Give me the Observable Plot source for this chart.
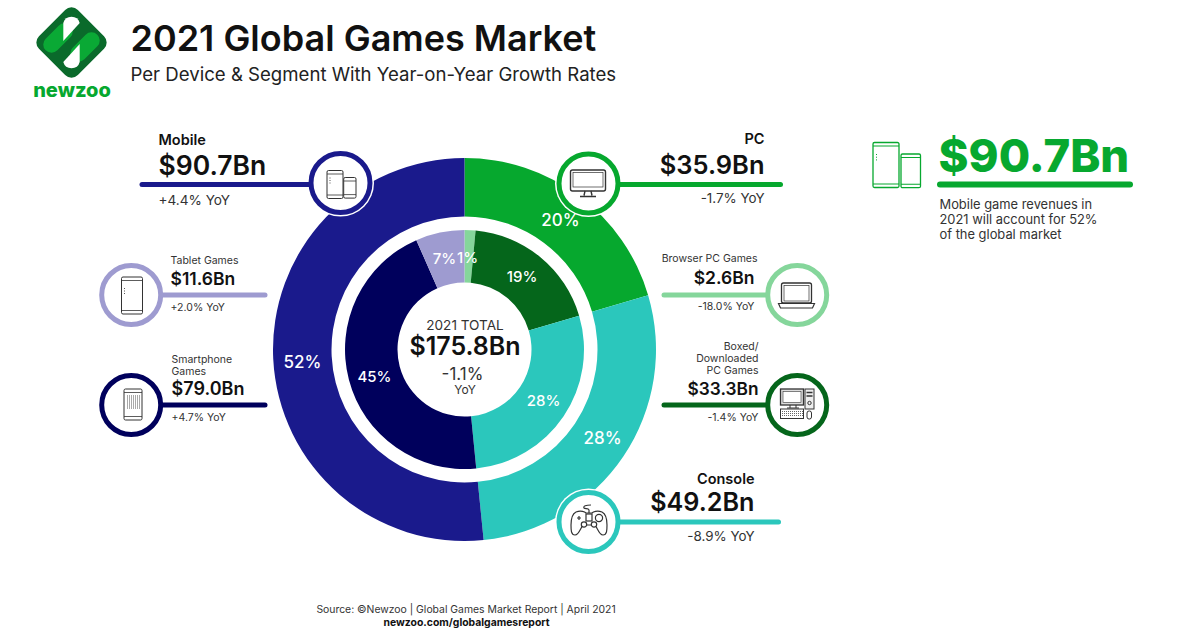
<!DOCTYPE html>
<html lang="en">
<head>
<meta charset="UTF-8">
<title>2021 Global Games Market</title>
<script src="https://cdn.jsdelivr.net/npm/d3@7"></script>
<script src="https://cdn.jsdelivr.net/npm/@observablehq/plot@0.6"></script>
<style>
  html, body { margin: 0; background: #fff; }
  svg { display: block; font-family: Inter, "Open Sans", sans-serif; }
</style>
</head>
<body>
<div id="chart"></div>
<script>
// values, clockwise from twelve o'clock
const outerNames = ["PC", "Console", "Mobile"];
const outerValues = [35.9, 49.2, 90.7];
const outerShares = ["20%", "28%", "52%"];
const outerColors = ["#06a82e", "#2bc7bc", "#1a1a8c"];

const innerNames = ["Browser PC Games", "Boxed/Downloaded PC Games", "Console", "Smartphone Games", "Tablet Games"];
const innerValues = [2.6, 33.3, 49.2, 79.0, 11.6];
const innerShares = ["1%", "19%", "28%", "45%", "7%"];
const innerColors = ["#85d69b", "#05661b", "#2bc7bc", "#00005c", "#9e9bd0"];

const totalLabel = "$175.8Bn";
const totalGrowth = "-1.1%";

const green = "#07a82f";
const ink = "#111";
const grey = "#333";

const cx = 464.5, cy = 349.5;

function label(t, x, y, fontSize, fontWeight = 400, fill = ink, textAnchor = "start") {
  return Plot.text([{t, x, y}], {x: "x", y: "y", text: "t", fontSize, fontWeight, fill, textAnchor});
}

// one callout: ring with icon, leader line, then the texts
function callout(color, ringX, ringY, lineFrom, lineTo, lineY) {
  return [
    Plot.dot([{x: ringX, y: ringY}], {x: "x", y: "y", r: 33.5, fill: "#fff"}),
    Plot.ruleY([lineY], {x1: lineFrom, x2: lineTo, stroke: color, strokeWidth: 5, strokeLinecap: "round"}),
    Plot.dot([{x: ringX, y: ringY}], {x: "x", y: "y", r: 29.5, fill: "#fff", stroke: color, strokeWidth: 5})
  ];
}

function donut(values, colors, r0, r1) {
  return (index, {x, y}) => {
    const g = d3.create("svg:g").attr("transform", `translate(${x(cx)},${y(cy)})`);
    const arcs = d3.pie().sort(null).startAngle(0).endAngle(2 * Math.PI)(values);
    const arc = d3.arc().innerRadius(r0).outerRadius(r1);
    g.selectAll("path").data(arcs).join("path").attr("d", arc).attr("fill", (d, i) => colors[i]);
    return g.node();
  };
}

// little line icons, drawn around their own origin
function device(x, y, w, h, c = "#333", sw = 1) {
  return `<rect x="${x}" y="${y}" width="${w}" height="${h}" rx="1.5" fill="#fff" stroke="${c}" stroke-width="${sw}"/>
    <path d="M${x} ${y + 3.5}H${x + w}M${x} ${y + h - 3.5}H${x + w}" stroke="${c}" stroke-width="${sw * 0.8}" fill="none"/>`;
}
function grid(x, y, n, m, step, c = "#555") {
  let s = "";
  for (let i = 0; i < n; i++) for (let j = 0; j < m; j++) s += `<rect x="${x + i * step}" y="${y + j * step}" width="1" height="1" fill="${c}"/>`;
  return s;
}
const controllerIcon = `<g fill="#fff" stroke="#333" stroke-width="1.2">
  <path d="M-13 -9C-8 -11 -4 -9 -3 -8H3C4 -9 8 -11 13 -9C17 -7 18 -1 18 4C18 9 18 14 14 14C10 14 8 6 6 4H-6C-8 6 -10 14 -14 14C-18 14 -18 9 -18 4C-18 -1 -17 -7 -13 -9Z"/>
  <circle cx="-5" cy="3.5" r="2.7"/><circle cx="5" cy="3.5" r="2.7"/>
  <rect x="-3" y="-7" width="6" height="7"/>
  <path d="M-12 -3H-8M-10 -5V-1" fill="none"/><circle cx="10" cy="-3" r="3.6"/>
  <path d="M0 -8V-11C0 -13 -4 -12 -5 -13C-6 -15 -3 -16 2 -16" fill="none"/>
</g>`;
const icons = [
  {x: 340, y: 182.5, svg: device(-13, -12, 16, 28) + device(3.7, -5, 12.3, 20.6) + grid(-10.5, -5, 1, 3, 2.5)},
  {x: 132, y: 295, svg: device(-10.5, -18, 21, 37) + grid(-8, -7, 1, 3, 2.5)},
  {x: 133, y: 404.5, svg: device(-9, -15.5, 18, 31) + grid(-6, -9, 7, 7, 2)},
  {x: 588, y: 183.5, svg: `<rect x="-17.5" y="-13.5" width="35" height="21" rx="2" fill="#fff" stroke="#333" stroke-width="1.4"/>
    <rect x="-15" y="-11" width="30" height="14.5" fill="#fff" stroke="#333" stroke-width="0.7"/>
    <path d="M-3 7.5L-4 12M3 7.5L4 12M-8 13H8" fill="none" stroke="#333" stroke-width="1.4"/>`},
  {x: 796.5, y: 295.5, svg: `<rect x="-15" y="-12.5" width="30" height="20" rx="2" fill="#fff" stroke="#333" stroke-width="1.3"/>
    <rect x="-12.5" y="-10" width="25" height="15.5" fill="#fff" stroke="#333" stroke-width="0.7"/>
    <path d="M-18 8H18L16 12.5H-16Z" fill="#fff" stroke="#333" stroke-width="1.2"/>`},
  {x: 797, y: 404, svg: `<rect x="-16.5" y="-15" width="23" height="16" fill="#ddd" stroke="#333" stroke-width="1.3"/>
    <rect x="-14" y="-12.5" width="18" height="11" fill="#fff" stroke="#333" stroke-width="0.6"/>
    <rect x="8" y="-15" width="9" height="20" fill="#eee" stroke="#333" stroke-width="1"/>
    <path d="M9.5 -11.5H15.5M9.5 -8H15.5" stroke="#333" stroke-width="1.6"/><circle cx="12.5" cy="-1" r="1.7" fill="none" stroke="#333"/>
    <path d="M-7 1V4M-1 1V4M-10 4H2" stroke="#333" fill="none"/>
    <rect x="-16.5" y="5" width="23" height="9.5" fill="#fff" stroke="#333" stroke-width="1"/>${grid(-15, 7, 11, 3, 2, "#666")}
    <rect x="10" y="7" width="4.5" height="8" rx="2" fill="#fff" stroke="#333"/>`},
  {x: 589, y: 521, svg: controllerIcon},
  {x: 897, y: 165, svg: device(-24, -22.5, 26, 45, green, 1.3) + device(4, -11, 19.5, 33.7, green, 1.3) + grid(-21, -11, 1, 3, 2.7, green)}
];

const logo = `<rect x="-27.5" y="-27.5" width="55" height="55" rx="9" fill="#0a6a2b" transform="rotate(45)"/>
  <g id="half"><path d="M-7 -11L-20 2" stroke="#0aa935" stroke-width="16.5" stroke-linecap="round"/>
  <path d="M-8.2 -19.5A8.5 8.5 0 0 1 8.2 -19.5L-8.2 -1.5Z" fill="#fff"/></g>
  <use href="#half" transform="rotate(180)"/>`;

function iconMark(index, {x, y}) {
  const g = document.createElementNS("http://www.w3.org/2000/svg", "g");
  g.innerHTML = icons.map(d => `<g transform="translate(${x(d.x)},${y(d.y)})">${d.svg}</g>`).join("")
    + `<g transform="translate(${x(71.5)},${y(42.5)})">${logo}</g>`;
  return g;
}

const chart = Plot.plot({
  width: 1200,
  height: 630,
  margin: 0,
  x: {domain: [0, 1200], range: [0, 1200], axis: null},
  y: {domain: [0, 630], range: [0, 630], axis: null},
  marks: [
    donut(outerValues, outerColors, 133, 191.5),
    donut(innerValues, innerColors, 67, 119.5),

    ...callout(outerColors[2], 340, 182.5, 142, 320, 184),
    ...callout(outerColors[0], 588, 183, 600, 780.5, 184),
    ...callout(outerColors[1], 588, 521.5, 600, 778.5, 521.5),
    ...callout(innerColors[4], 130.7, 294.5, 140, 265, 294.5),
    ...callout(innerColors[3], 130.7, 404.5, 140, 265, 404.5),
    ...callout(innerColors[0], 796.7, 294.5, 664, 780, 294.5),
    ...callout(innerColors[1], 796.7, 404.5, 664, 780, 404.5),
    iconMark,

    // header
    label("2021 Global Games Market", 130, 39, 36, 600),
    label("Per Device & Segment With Year-on-Year Growth Rates", 130, 75, 18.6, 400, "#222"),
    label("newzoo", 71.5, 90, 20, 800, green, "middle"),

    // share labels inside the rings
    label(outerShares[2], 302, 362, 17, 500, "#fff", "middle"),
    label(outerShares[0], 560, 220, 17, 500, "#fff", "middle"),
    label(outerShares[1], 602, 438, 17, 500, "#fff", "middle"),
    label(innerShares[3], 374, 377, 15, 500, "#fff", "middle"),
    label(innerShares[4], 444, 259, 15, 500, "#fff", "middle"),
    label(innerShares[0], 467, 258, 15, 500, "#fff", "middle"),
    label(innerShares[1], 521.5, 277, 15, 500, "#fff", "middle"),
    label(innerShares[2], 543, 401, 15, 500, "#fff", "middle"),

    // centre
    label("2021 TOTAL", cx, 325, 13.6, 400, grey, "middle"),
    label(totalLabel, cx, 346, 25, 600, ink, "middle"),
    label(totalGrowth, 462, 374, 17, 400, grey, "middle"),
    label("YoY", cx, 390, 12, 400, grey, "middle"),

    // left callouts
    label(outerNames[2], 158, 140, 14.5, 600),
    label("$90.7Bn", 158, 166, 26.5, 600),
    label("+4.4% YoY", 158, 200, 13.6, 400, grey),
    label(innerNames[4], 170, 260, 10.5, 400, grey),
    label("$11.6Bn", 170, 279, 17.5, 600),
    label("+2.0% YoY", 170, 307, 10.5, 400, grey),
    label("Smartphone", 171, 359, 10.5, 400, grey),
    label("Games", 171, 371, 10.5, 400, grey),
    label("$79.0Bn", 171, 389, 18, 600),
    label("+4.7% YoY", 171, 417, 10.5, 400, grey),

    // right callouts
    label(outerNames[0], 764, 139, 14.5, 600, ink, "end"),
    label("$35.9Bn", 764, 165, 25.5, 600, ink, "end"),
    label("-1.7% YoY", 764, 198, 13.4, 400, grey, "end"),
    label(innerNames[0], 757, 258, 10.5, 400, grey, "end"),
    label("$2.6Bn", 754, 278, 17.5, 600, ink, "end"),
    label("-18.0% YoY", 754, 306, 10.5, 400, grey, "end"),
    label("Boxed/", 758, 346, 10.5, 400, grey, "end"),
    label("Downloaded", 758, 358, 10.5, 400, grey, "end"),
    label("PC Games", 758, 370, 10.5, 400, grey, "end"),
    label("$33.3Bn", 758, 389, 17.3, 600, ink, "end"),
    label("-1.4% YoY", 758, 417, 10.5, 400, grey, "end"),
    label(outerNames[1], 754, 479, 14.5, 600, ink, "end"),
    label("$49.2Bn", 754, 502, 25.2, 600, ink, "end"),
    label("-8.9% YoY", 754, 536, 13.4, 400, grey, "end"),

    // highlight on the right
    label("$90.7Bn", 938, 157, 45.5, 800, green),
    Plot.ruleY([184], {x1: 940, x2: 1130, stroke: green, strokeWidth: 6, strokeLinecap: "round"}),
    label("Mobile game revenues in", 939, 204, 12.9, 400, grey),
    label("2021 will account for 52%", 939, 219, 12.9, 400, grey),
    label("of the global market", 939, 234, 12.9, 400, grey),

    // source
    label("Source: ©Newzoo | Global Games Market Report | April 2021", 465.5, 609, 10.4, 400, grey, "middle"),
    label("newzoo.com/globalgamesreport", 466, 622.5, 10.4, 700, ink, "middle")
  ]
});

document.querySelector("#chart").append(chart);
</script>
</body>
</html>
